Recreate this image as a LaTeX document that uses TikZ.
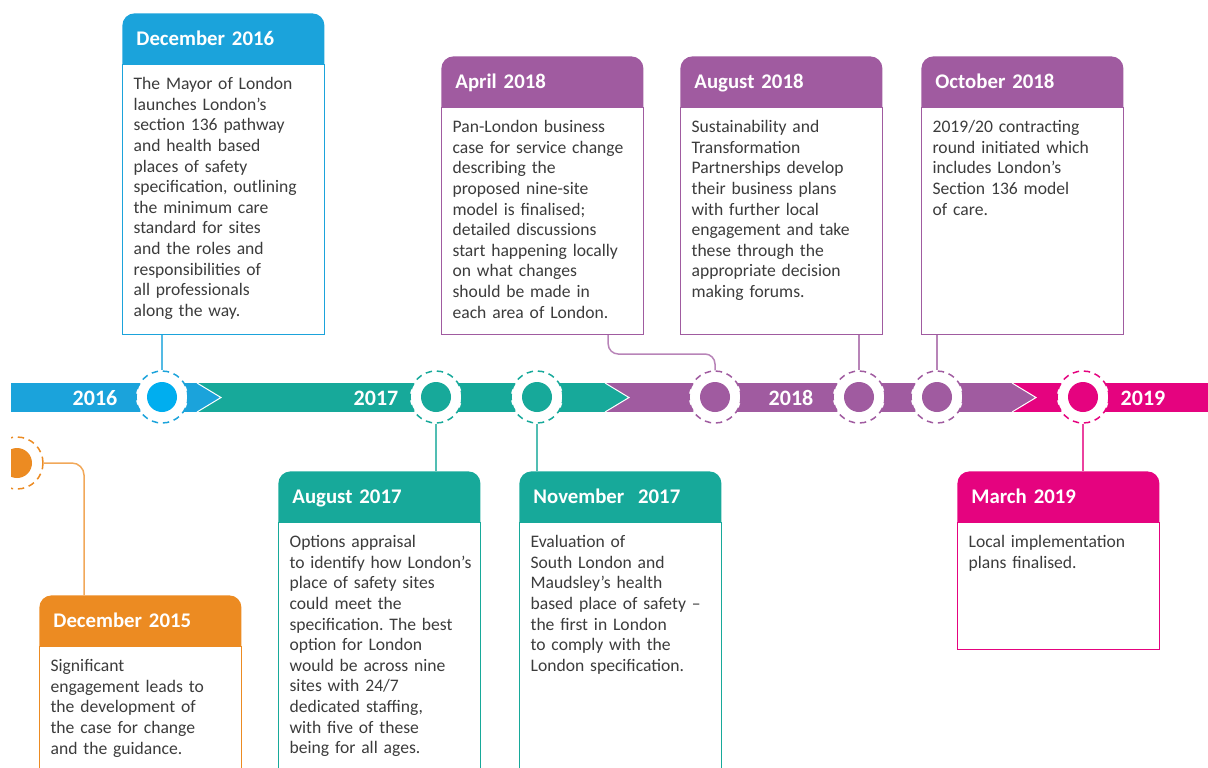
\documentclass[tikz,border=0pt]{standalone}
\usepackage{fontspec}
\setmainfont{Carlito}
\usetikzlibrary{calc}
\definecolor{blueA}{HTML}{1BA3DB}
\definecolor{cyanA}{HTML}{00AEEF}
\definecolor{greenA}{HTML}{17A99A}
\definecolor{violetA}{HTML}{A05BA0}
\definecolor{pinkA}{HTML}{E5037F}
\definecolor{orangeA}{HTML}{EC8B22}
\definecolor{grayA}{HTML}{3C3C3C}
\newcommand\cardfont{\fontsize{8.8}{10.3}\selectfont\frenchspacing\hyphenpenalty=10000}
\tikzset{
  head/.style={
    fill=#1, text=white, rounded corners=6pt, anchor=north west,
    text width=87pt, inner xsep=7pt, inner ysep=0pt, align=left,
    text height=15.8pt, text depth=17.2pt,
    font=\fontsize{10.4}{12}\selectfont\bfseries
  },
  card/.style={
    draw=#1, fill=white, line width=0.6pt, anchor=north west,
    text width=90pt, inner xsep=5.5pt, inner ysep=5.4pt, align=left,
    text height=7.2pt, text=grayA, font=\cardfont,
    execute at begin node=\strut
  },
  core/.style={path picture={\fill[#1] (path picture bounding box.center) circle (7.5pt);}},
  ring/.style={
    circle, draw=#1, fill=white, line width=0.75pt,
    dash pattern=on 3.2pt off 2.4pt, inner sep=0pt, minimum size=26pt, core=#1
  },
  year/.style={text=white, font=\fontsize{11}{13}\selectfont\bfseries},
  chevron/.style={fill=#1, draw=white, line width=0.5pt},
  link/.style={draw=#1!75, line width=0.75pt}
}

\begin{document}
\begin{tikzpicture}[x=0.5pt, y=-0.5pt]
  \useasboundingbox (0,0) rectangle (1208,767);
  \clip (11,0) rectangle (1208,767);

  % timeline band, one segment per year
  \fill[pinkA] (1012,383) rectangle (1208,412);
  \fill[violetA] (605,383) rectangle (1012,412);
  \fill[greenA] (197,383) rectangle (605,412);
  \fill[blueA] (0,383) rectangle (197,412);
  \filldraw[chevron=blueA] (197,383) -- (221,397.5) -- (197,412);
  \filldraw[chevron=greenA] (605,383) -- (629,397.5) -- (605,412);
  \filldraw[chevron=violetA] (1012,383) -- (1036,397.5) -- (1012,412);

  \node[year] (y16) at (95,398) {2016};
  \node[year] (y17) at (376,398) {2017};
  \node[year] (y18) at (791,398) {2018};
  \node[year] (y19) at (1143,398) {2019};

  \node[ring=blueA, core=cyanA] (m16) at (162,397) {};
  \node[ring=greenA] (m17a) at (436,397) {};
  \node[ring=greenA] (m17b) at (537,397) {};
  \node[ring=violetA] (m18a) at (715,397) {};
  \node[ring=violetA] (m18b) at (859,397) {};
  \node[ring=violetA] (m18c) at (937,397) {};
  \node[ring=pinkA] (m19) at (1083,397) {};
  \node[ring=orangeA] (m15) at (17,463) {};

  % cards above the band
  \node[head=blueA] (d16h) at (122,13) {December 2016};
  \node[card=blueA, text depth=117pt] (d16) at ([yshift=8pt]d16h.south west)
    {The Mayor of London\\launches London’s\\section 136 pathway\\and health based\\places of safety\\specification, outlining\\the minimum care\\standard for sites\\and the roles and\\responsibilities of\\all professionals\\along the way.};

  \node[head=violetA] (a18h) at (441,56) {April 2018};
  \node[card=violetA, text depth=95.5pt] (a18) at ([yshift=8pt]a18h.south west)
    {Pan-London business\\case for service change\\describing the\\proposed nine-site\\model is finalised;\\detailed discussions\\start happening locally\\on what changes\\should be made in\\each area of London.};

  \node[head=violetA] (g18h) at (680,56) {August 2018};
  \node[card=violetA, text depth=95.5pt] (g18) at ([yshift=8pt]g18h.south west)
    {Sustainability and\\Transformation\\Partnerships develop\\their business plans\\with further local\\engagement and take\\these through the\\appropriate decision\\making forums.};

  \node[head=violetA] (o18h) at (921,56) {October 2018};
  \node[card=violetA, text depth=95.5pt] (o18) at ([yshift=8pt]o18h.south west)
    {2019/20 contracting\\round initiated which\\includes London’s\\Section 136 model\\of care.};

  % cards below the band
  \node[head=greenA] (u17h) at (278,471) {August 2017};
  \node[card=greenA, text depth=132pt] (u17) at ([yshift=8pt]u17h.south west)
    {Options appraisal\\\mbox{to identify how London’s}\\place of safety sites\\could meet the\\specification. The best\\option for London\\would be across nine\\sites with 24/7\\dedicated staffing,\\with five of these\\being for all ages.};

  \node[head=greenA] (n17h) at (519,471) {November~~2017};
  \node[card=greenA, text depth=132pt] (n17) at ([yshift=8pt]n17h.south west)
    {Evaluation of\\South London and\\Maudsley’s health\\based place of safety –\\the first in London\\to comply with the\\London specification.};

  \node[head=pinkA] (r19h) at (957,471) {March 2019};
  \node[card=pinkA, text depth=45.5pt] (r19) at ([yshift=8pt]r19h.south west)
    {Local implementation\\plans finalised.};

  \node[head=orangeA] (d15h) at (39,595) {December 2015};
  \node[card=orangeA, text depth=82pt] (d15) at ([yshift=8pt]d15h.south west)
    {Significant\\engagement leads to\\the development of\\the case for change\\and the guidance.};

  \draw[link=blueA] (d16.south -| m16.north) -- (m16.north);
  \draw[link=violetA, rounded corners=5pt] ([xshift=-18pt]a18.south east) -- ++(0,19) -| (m18a.north);
  \draw[link=violetA] (g18.south -| m18b.north) -- (m18b.north);
  \draw[link=violetA] (o18.south -| m18c.north) -- (m18c.north);
  \draw[link=greenA] (m17a.south) -- (m17a.south |- u17h.north);
  \draw[link=greenA] (m17b.south) -- (m17b.south |- n17h.north);
  \draw[link=pinkA] (m19.south) -- (m19.south |- r19h.north);
  \draw[link=orangeA, rounded corners=6pt] (m15.east) -| ([xshift=22.5pt]d15h.north west);
\end{tikzpicture}
\end{document}
